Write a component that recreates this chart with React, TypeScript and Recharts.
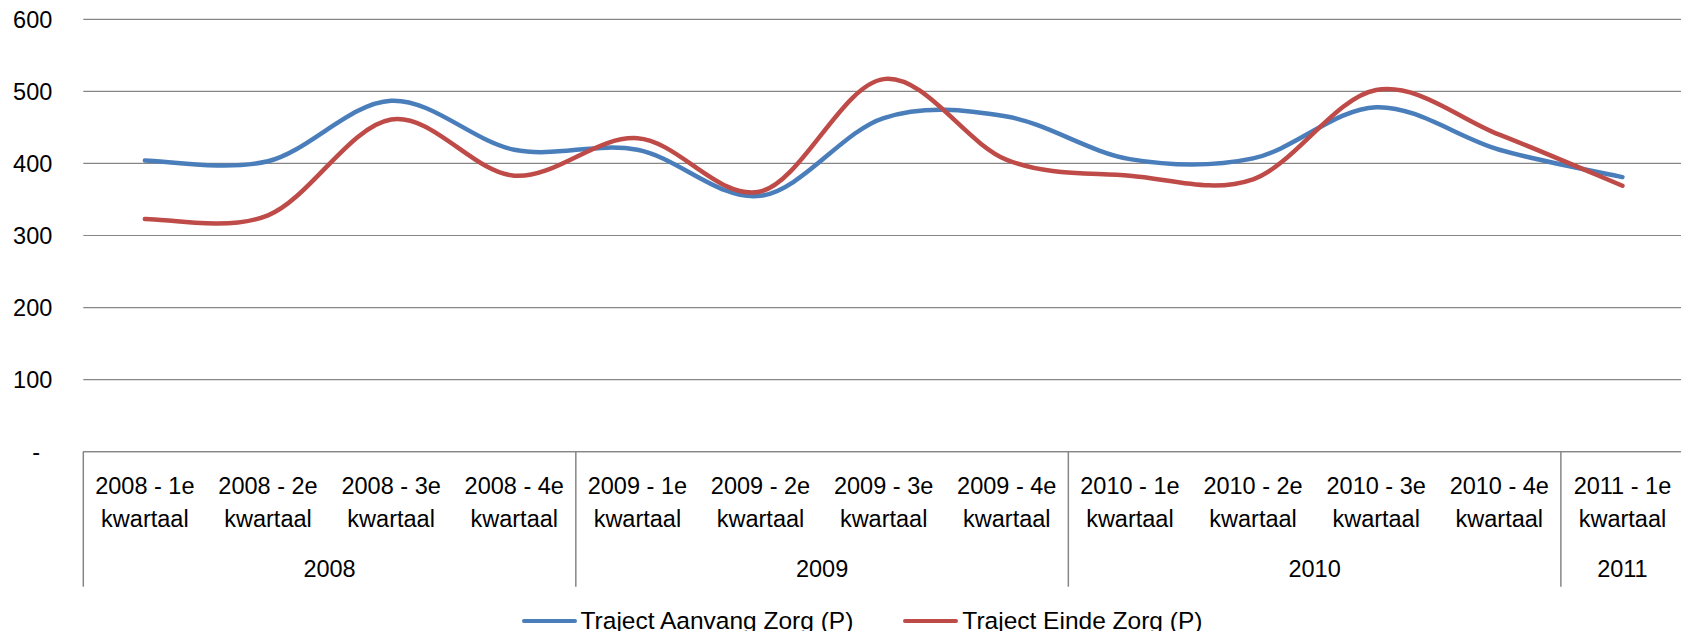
import React from "react";
import { LineChart, Line, XAxis, YAxis, CartesianGrid, Legend } from "recharts";

const quarterLabels = [
  "2008 - 1e kwartaal",
  "2008 - 2e kwartaal",
  "2008 - 3e kwartaal",
  "2008 - 4e kwartaal",
  "2009 - 1e kwartaal",
  "2009 - 2e kwartaal",
  "2009 - 3e kwartaal",
  "2009 - 4e kwartaal",
  "2010 - 1e kwartaal",
  "2010 - 2e kwartaal",
  "2010 - 3e kwartaal",
  "2010 - 4e kwartaal",
  "2011 - 1e kwartaal",
];
const years = ["2008", "2009", "2010", "2011"];
const quartersPerYear = [4, 4, 4, 1];
const aanvangValues = [404, 403, 487, 419, 419, 355, 463, 465, 406, 407, 478, 419, 381];
const eindeValues = [323, 328, 461, 383, 435, 361, 517, 405, 383, 378, 502, 440, 369];
const yTicks = [0, 100, 200, 300, 400, 500, 600];
const seriesNames = ["Traject Aanvang Zorg (P)", "Traject Einde Zorg (P)"];

const FONT = "'Liberation Sans', Arial, sans-serif";
const FS = 23.5;
const LEGEND_FS = 24.5;
const TEXT = "#000000";
const GRID = "#868686";
const BLUE = "#4A7EBB";
const RED = "#BE4B48";

const data = quarterLabels.map((q, i) => ({
  quarter: q,
  aanvang: aanvangValues[i],
  einde: eindeValues[i],
}));

// index of first quarter of each year group
const groupStarts: number[] = [];
{
  let acc = 0;
  quartersPerYear.forEach((n) => {
    groupStarts.push(acc);
    acc += n;
  });
}

// Excel-like smoothing (Catmull-Rom as cubic Bezier)
function excelSmooth(context: any) {
  let pts: number[][] = [];
  return {
    areaStart() {},
    areaEnd() {},
    lineStart() {
      pts = [];
    },
    lineEnd() {
      const n = pts.length;
      if (!n) return;
      context.moveTo(pts[0][0], pts[0][1]);
      for (let i = 0; i < n - 1; i++) {
        const p0 = pts[Math.max(0, i - 1)];
        const p1 = pts[i];
        const p2 = pts[i + 1];
        const p3 = pts[Math.min(n - 1, i + 2)];
        context.bezierCurveTo(
          p1[0] + (p2[0] - p0[0]) / 6,
          p1[1] + (p2[1] - p0[1]) / 6,
          p2[0] - (p3[0] - p1[0]) / 6,
          p2[1] - (p3[1] - p1[1]) / 6,
          p2[0],
          p2[1]
        );
      }
    },
    point(x: number, y: number) {
      pts.push([+x, +y]);
    },
  };
}

const Q_AXIS_H = 92;
const Y_AXIS_H = 43;

const QuarterTick = (props: any) => {
  const { x, y, payload } = props;
  const s = String(payload.value);
  const idx = s.indexOf(" kwartaal");
  const l1 = idx >= 0 ? s.slice(0, idx) : s;
  const l2 = idx >= 0 ? s.slice(idx + 1) : "";
  return (
    <g>
      <text x={x} y={y + 42.3} textAnchor="middle" fill={TEXT} fontFamily={FONT} fontSize={FS}>
        {l1}
      </text>
      <text x={x} y={y + 75} textAnchor="middle" fill={TEXT} fontFamily={FONT} fontSize={FS}>
        {l2}
      </text>
    </g>
  );
};

const YearTick = (props: any) => {
  const { x, y, payload } = props;
  const index = payload.index != null ? payload.index : props.index;
  const half = payload.offset || 0;
  const g = groupStarts.indexOf(index);
  const isLast = index === quarterLabels.length - 1;
  const lineProps = { y1: y - Q_AXIS_H, y2: y + Y_AXIS_H, stroke: GRID, strokeWidth: 1.5 };
  return (
    <g>
      {g >= 0 && (
        <>
          <line x1={x - half} x2={x - half} {...lineProps} />
          <text
            x={x - half + quartersPerYear[g] * half}
            y={y + 33.6}
            textAnchor="middle"
            fill={TEXT}
            fontFamily={FONT}
            fontSize={FS}
          >
            {years[g]}
          </text>
        </>
      )}
      {isLast && <line x1={x + half} x2={x + half} {...lineProps} />}
    </g>
  );
};

const ValueTick = (props: any) => {
  const { x, y, payload } = props;
  const v = payload.value;
  return (
    <text
      x={v === 0 ? x - 12.3 : x}
      y={y}
      dy="0.355em"
      textAnchor="end"
      fill={TEXT}
      fontFamily={FONT}
      fontSize={FS}
    >
      {v === 0 ? "-" : String(v)}
    </text>
  );
};

const LegendContent = (props: any) => {
  const payload = props.payload || [];
  return (
    <div
      style={{
        height: 44.3,
        boxSizing: "border-box",
        paddingTop: 24.3,
        paddingLeft: 32,
        display: "flex",
        justifyContent: "center",
        fontFamily: FONT,
        fontSize: LEGEND_FS,
        color: TEXT,
        lineHeight: "24px",
      }}
    >
      {payload.map((entry: any, i: number) => (
        <div
          key={i}
          style={{ display: "flex", alignItems: "center", marginLeft: i === 0 ? 0 : 50, whiteSpace: "nowrap" }}
        >
          <span
            style={{
              display: "inline-block",
              width: 55,
              height: 4.5,
              borderRadius: 2.25,
              background: entry.color,
              marginRight: 4,
            }}
          />
          <span>{entry.value}</span>
        </div>
      ))}
    </div>
  );
};

export default function App() {
  return (
    <div style={{ width: 1681, height: 623, fontFamily: FONT }}>
      <LineChart
        width={1681}
        height={623}
        data={data}
        margin={{ top: 11.3, right: 5, bottom: 0, left: 0 }}
      >
        <CartesianGrid vertical={false} stroke={GRID} strokeWidth={1.2} />
        <XAxis
          xAxisId="q"
          dataKey="quarter"
          scale="band"
          interval={0}
          height={Q_AXIS_H}
          tickLine={false}
          tickSize={0}
          tickMargin={0}
          axisLine={{ stroke: GRID, strokeWidth: 1.2 }}
          tick={QuarterTick}
        />
        <XAxis
          xAxisId="yr"
          dataKey="quarter"
          scale="band"
          interval={0}
          height={Y_AXIS_H}
          tickLine={false}
          tickSize={0}
          tickMargin={0}
          axisLine={false}
          tick={YearTick}
        />
        <YAxis
          domain={[0, 600]}
          ticks={yTicks}
          width={75.3}
          axisLine={false}
          tickLine={false}
          tickSize={0}
          tickMargin={31}
          interval={0}
          tick={ValueTick}
        />
        <Legend verticalAlign="bottom" align="center" content={LegendContent} />
        <Line
          xAxisId="q"
          dataKey="aanvang"
          name={seriesNames[0]}
          stroke={BLUE}
          strokeWidth={4.5}
          strokeLinecap="round"
          type={excelSmooth as any}
          dot={false}
          activeDot={false}
          isAnimationActive={false}
        />
        <Line
          xAxisId="q"
          dataKey="einde"
          name={seriesNames[1]}
          stroke={RED}
          strokeWidth={4.5}
          strokeLinecap="round"
          type={excelSmooth as any}
          dot={false}
          activeDot={false}
          isAnimationActive={false}
        />
      </LineChart>
    </div>
  );
}
